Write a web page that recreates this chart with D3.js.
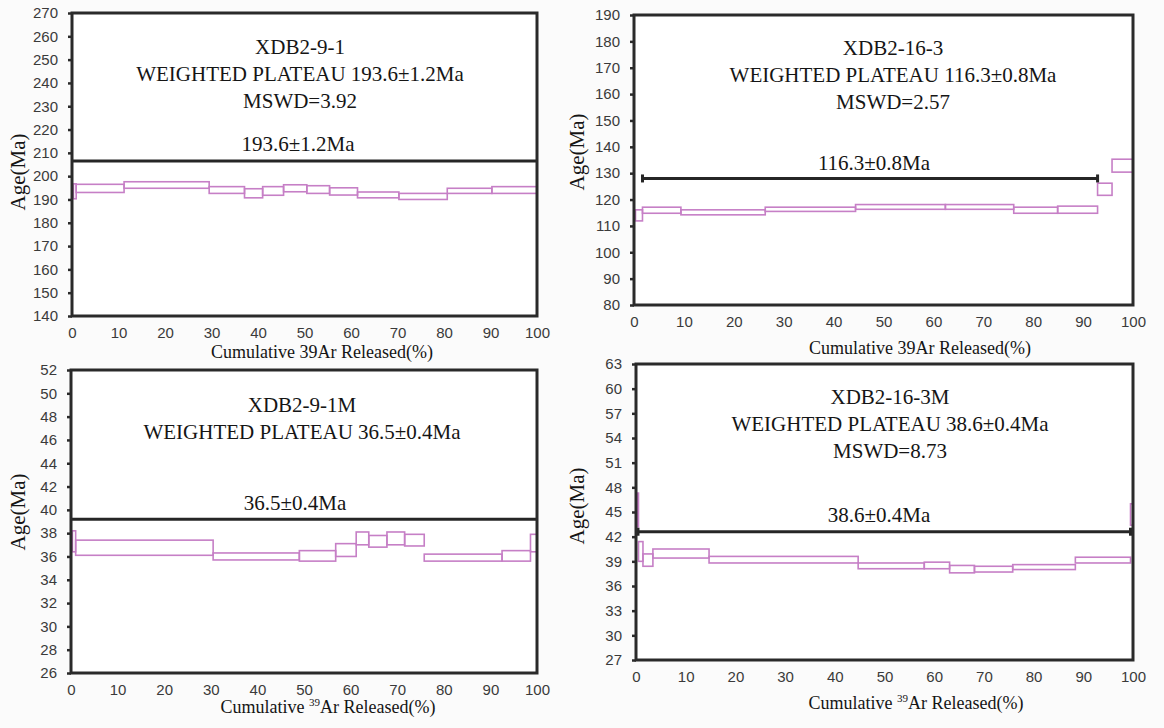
<!DOCTYPE html>
<html>
<head>
<meta charset="utf-8">
<script src="https://cdn.jsdelivr.net/npm/d3@7"></script>
<style>
body{margin:0;background:#fbfbfb;}
svg{display:block;}
.tick text{font-family:"Liberation Sans",Arial,sans-serif;font-size:15px;fill:#3a3a3a;}
.note{font-family:"Liberation Serif","Times New Roman",serif;font-size:21px;fill:#151515;}
.title{font-family:"Liberation Serif","Times New Roman",serif;font-size:18px;fill:#151515;}
.ylab{font-family:"Liberation Serif","Times New Roman",serif;font-size:21px;fill:#151515;}
</style>
</head>
<body>
<svg id="chart" width="1164" height="728"></svg>
<script>
// cumulative 39Ar released (%) - same ticks on every panel
var xTicks = [0,10,20,30,40,50,60,70,80,90,100];

// XDB2-9-1
var p1Ticks = [140,150,160,170,180,190,200,210,220,230,240,250,260,270];
var p1Edges = [0.3,0.9,11.2,29.5,37.1,41.0,45.5,50.5,55.4,61.4,70.3,80.7,90.3,100];
var p1Low   = [190.3,193.0,194.8,192.6,190.7,191.8,193.3,192.6,191.9,190.7,190.0,192.6,192.6];
var p1High  = [196.7,196.5,197.6,195.5,194.6,195.5,196.3,195.9,195.0,193.2,192.6,194.8,195.5];
var p1Plateau = [0,100,206.5];

// XDB2-16-3
var p2Ticks = [80,90,100,110,120,130,140,150,160,170,180,190];
var p2Edges = [0.3,1.7,9.4,26.3,44.4,62.4,76.1,84.9,92.9,95.8,100];
var p2Low   = [111.9,114.8,114.2,115.5,116.3,116.3,114.8,114.8,121.6,130.4];
var p2High  = [116.1,117.1,116.1,117.1,118.1,118.1,117.1,117.5,126.2,135.3];
var p2Plateau = [1.7,92.9,128.0];

// XDB2-9-1M
var p3Ticks = [26,28,30,32,34,36,38,40,42,44,46,48,50,52];
var p3Edges = [0.3,1.0,30.5,49.0,56.8,61.2,63.9,67.8,71.6,75.8,92.5,98.6,100];
var p3Low   = [36.4,36.1,35.7,35.6,36.0,37.0,36.8,37.0,36.9,35.6,35.6,36.4];
var p3High  = [38.2,37.4,36.3,36.5,37.1,38.1,37.8,38.1,37.9,36.2,36.5,37.9];
var p3Plateau = [0,100,39.2];

// XDB2-16-3M
var p4Ticks = [27,30,33,36,39,42,45,48,51,54,57,60,63];
var p4Edges = [0.2,0.5,1.4,3.4,14.7,44.7,58.0,63.1,68.1,75.8,88.4,99.5,100];
var p4Low   = [43.2,39.0,38.4,39.4,38.8,38.1,38.1,37.6,37.7,38.0,38.8,43.4];
var p4High  = [47.3,41.4,39.9,40.5,39.6,38.8,38.9,38.5,38.4,38.6,39.5,46.0];
var p4Plateau = [0.4,99.5,42.6];

var notes1 = ["XDB2-9-1","WEIGHTED PLATEAU 193.6\u00b11.2Ma","MSWD=3.92"];
var notes2 = ["XDB2-16-3","WEIGHTED PLATEAU 116.3\u00b10.8Ma","MSWD=2.57"];
var notes3 = ["XDB2-9-1M","WEIGHTED PLATEAU 36.5\u00b10.4Ma"];
var notes4 = ["XDB2-16-3M","WEIGHTED PLATEAU 38.6\u00b10.4Ma","MSWD=8.73"];
var plateauLabels = ["193.6\u00b11.2Ma","116.3\u00b10.8Ma","36.5\u00b10.4Ma","38.6\u00b10.4Ma"];

var svg = d3.select("#chart");

var drawSteps = function(g,edges,low,high,xScale,yScale)
{
    var steps = low.map(function(d,i){
        return {x0:edges[i],x1:edges[i+1],lo:low[i],hi:high[i]};
    });
    g.selectAll("rect.step")
        .data(steps)
        .enter()
        .append("rect")
        .attr("class","step")
        .attr("x",function(s){return xScale(s.x0)})
        .attr("width",function(s){return xScale(s.x1)-xScale(s.x0)})
        .attr("y",function(s){return yScale(s.hi)})
        .attr("height",function(s){return yScale(s.lo)-yScale(s.hi)})
        .attr("fill","none")
        .attr("stroke","#c67fc6")
        .attr("stroke-width",1.6);
}

var drawPlateau = function(g,plateau,caps,xScale,yScale)
{
    var y = yScale(plateau[2]);
    g.append("line")
        .attr("x1",xScale(plateau[0]))
        .attr("x2",xScale(plateau[1]))
        .attr("y1",y).attr("y2",y)
        .attr("stroke","#262626")
        .attr("stroke-width",3);
    if(caps)
    {
        g.selectAll("line.cap")
            .data([plateau[0],plateau[1]])
            .enter()
            .append("line")
            .attr("class","cap")
            .attr("x1",function(d){return xScale(d)})
            .attr("x2",function(d){return xScale(d)})
            .attr("y1",y-4).attr("y2",y+4)
            .attr("stroke","#262626")
            .attr("stroke-width",3);
    }
}

var drawAxes = function(g,box,xScale,yScale,yTicks)
{
    var yAxis = d3.axisLeft(yScale).tickValues(yTicks).tickSize(4).tickSizeOuter(0).tickPadding(10);
    var xAxis = d3.axisBottom(xScale).tickValues(xTicks).tickSize(0).tickPadding(11);

    var ya = g.append("g").call(yAxis);
    ya.select(".domain").remove();
    ya.selectAll(".tick line").attr("stroke","#2a2a2a").attr("stroke-width",2.5);

    var xa = g.append("g")
        .attr("transform","translate(0,"+(box.bottom-box.top)+")")
        .call(xAxis);
    xa.select(".domain").remove();
}

var drawPanel = function(box,yTicks,edges,low,high,plateau,caps,notes,plateauLabel,sup)
{
    var w = box.right-box.left;
    var h = box.bottom-box.top;

    var xScale = d3.scaleLinear().domain([0,100]).range([0,w]);
    var yScale = d3.scaleLinear()
        .domain([yTicks[0],yTicks[yTicks.length-1]])
        .range([h,0]);

    var g = svg.append("g")
        .attr("transform","translate("+box.left+","+box.top+")");

    g.append("rect")
        .attr("width",w).attr("height",h)
        .attr("fill","#ffffff");

    drawSteps(g,edges,low,high,xScale,yScale);
    drawPlateau(g,plateau,caps,xScale,yScale);

    //frame
    g.append("rect")
        .attr("width",w).attr("height",h)
        .attr("fill","none")
        .attr("stroke","#2a2a2a")
        .attr("stroke-width",3);

    drawAxes(g,box,xScale,yScale,yTicks);

    //sample notes
    svg.append("g")
        .selectAll("text")
        .data(notes)
        .enter()
        .append("text")
        .attr("class","note")
        .attr("text-anchor","middle")
        .attr("x",box.noteX)
        .attr("y",function(d,i){return box.noteY+i*27})
        .text(function(d){return d});

    svg.append("text")
        .attr("class","note")
        .attr("text-anchor","middle")
        .attr("x",box.valX)
        .attr("y",box.valY)
        .text(plateauLabel);

    //y-axis
    svg.append("g")
        .attr("transform","translate("+box.ylabX+","+box.ylabY+")")
        .append("text")
        .attr("class","ylab")
        .attr("text-anchor","middle")
        .attr("dy","0.35em")
        .attr("transform","rotate(-90)")
        .text("Age(Ma)");

    //x-axis
    var t = svg.append("text")
        .attr("class","title")
        .attr("text-anchor","middle")
        .attr("x",box.titleX)
        .attr("y",box.titleY);
    if(sup)
    {
        t.append("tspan").text("Cumulative ");
        t.append("tspan").attr("font-size","11px").attr("dy",-7).text("39");
        t.append("tspan").attr("dy",7).text("Ar Released(%)");
    }
    else
    {
        t.text("Cumulative 39Ar Released(%)");
    }
}

var box1 = {left:72,right:537,top:13,bottom:316,noteX:300,noteY:54,valX:298,valY:151,ylabX:18,ylabY:172,titleX:322,titleY:358};
var box2 = {left:634,right:1133,top:15,bottom:305,noteX:893,noteY:55,valX:874,valY:170,ylabX:577,ylabY:152,titleX:920,titleY:354};
var box3 = {left:71,right:537,top:370,bottom:673,noteX:302,noteY:412,valX:295,valY:510,ylabX:18,ylabY:512,titleX:328,titleY:713};
var box4 = {left:636,right:1133,top:364,bottom:660,noteX:890,noteY:404,valX:879,valY:522,ylabX:577,ylabY:506,titleX:916,titleY:709};

drawPanel(box1,p1Ticks,p1Edges,p1Low,p1High,p1Plateau,false,notes1,plateauLabels[0],false);
drawPanel(box2,p2Ticks,p2Edges,p2Low,p2High,p2Plateau,true,notes2,plateauLabels[1],false);
drawPanel(box3,p3Ticks,p3Edges,p3Low,p3High,p3Plateau,false,notes3,plateauLabels[2],true);
drawPanel(box4,p4Ticks,p4Edges,p4Low,p4High,p4Plateau,true,notes4,plateauLabels[3],true);
</script>
</body>
</html>
